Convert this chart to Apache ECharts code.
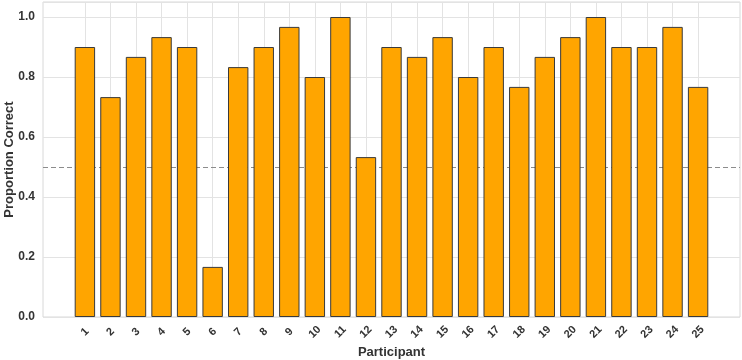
<!DOCTYPE html>
<html><head><meta charset="utf-8">
<script src="https://cdn.jsdelivr.net/npm/echarts@6/dist/echarts.min.js"></script>
<style>html,body{margin:0;padding:0;background:#fff}#c{width:742px;height:360px}</style>
</head><body><div id="c"></div>
<script>
var participants = [1,2,3,4,5,6,7,8,9,10,11,12,13,14,15,16,17,18,19,20,21,22,23,24,25];
var proportionCorrect = [0.900,0.733,0.867,0.933,0.900,0.167,0.833,0.900,0.967,0.800,1.000,0.533,0.900,0.867,0.933,0.800,0.900,0.767,0.867,0.933,1.000,0.900,0.900,0.967,0.767];
var yTicks = [0, 0.2, 0.4, 0.6, 0.8, 1.0];
var chanceLevel = 0.5;

var barData = participants.map(function(p,i){return [p, proportionCorrect[i]];});
var chart = echarts.init(document.getElementById('c'), null, {renderer:'canvas'});
var gridColor = '#e3e3e3';
chart.setOption({
  animation:false,
  grid:{left:43,right:2,top:2,bottom:43,containLabel:false,outerBoundsMode:'none',show:true,borderColor:'#d8d8d8',borderWidth:1,backgroundColor:'#fff'},
  xAxis:{type:'value',min:participants[0]-1.64,max:participants[participants.length-1]+1.64,
    name:'Participant',nameLocation:'middle',nameGap:29,nameMoveOverlap:false,
    nameTextStyle:{fontFamily:'Liberation Sans',fontWeight:'bold',fontSize:13,color:'#333'},
    axisLine:{show:false},axisTick:{show:false,customValues:participants},splitLine:{show:false},
    axisLabel:{customValues:participants,rotate:45,align:'center',verticalAlign:'middle',margin:15,
      fontFamily:'Liberation Sans',fontWeight:'bold',fontSize:11,color:'#333',
      formatter:function(v){return String(Math.round(v));}}},
  yAxis:{type:'value',min:0,max:1.05,interval:0.2,
    name:'Proportion Correct',nameLocation:'middle',nameGap:27,nameMoveOverlap:false,
    nameTextStyle:{fontFamily:'Liberation Sans',fontWeight:'bold',fontSize:13,color:'#333'},
    axisLine:{show:false},axisTick:{show:false},
    splitLine:{lineStyle:{color:gridColor,width:1}},
    axisLabel:{fontFamily:'Liberation Sans',fontWeight:'bold',fontSize:12,color:'#333',margin:8,
      formatter:function(v){return v>1.001?'':v.toFixed(1);}}},
  series:[
    {type:'line',data:barData,showSymbol:false,silent:true,lineStyle:{opacity:0,width:0},z:1,
      markLine:{z:1,silent:true,symbol:['none','none'],label:{show:false},animation:false,
        data:participants.map(function(p){return {xAxis:p,lineStyle:{color:gridColor,width:1,type:'solid'}};})
          .concat([{yAxis:chanceLevel,lineStyle:{color:'#8c8c8c',width:1.2,type:[5,3]}}])}},
    {type:'bar',data:barData,barWidth:20.4,z:3,
      itemStyle:{color:'#FFA500',borderColor:'#3a3a3a',borderWidth:1}}
  ]
});
</script></body></html>
